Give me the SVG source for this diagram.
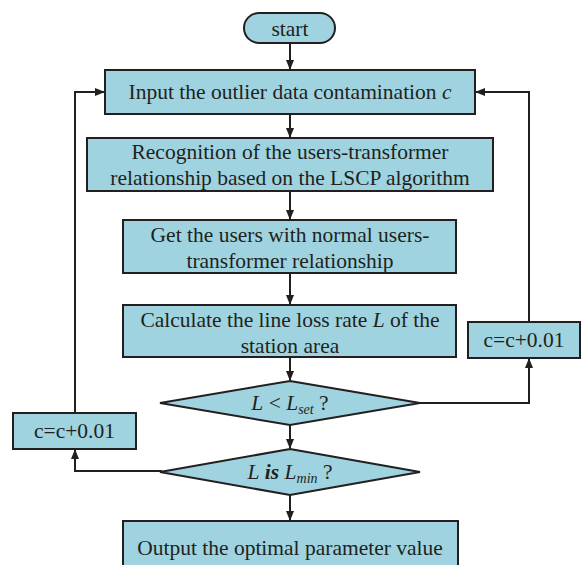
<svg xmlns="http://www.w3.org/2000/svg" width="581" height="565" viewBox="0 0 581 565">
<style>
.box{fill:#9ed3df;stroke:#231f20;stroke-width:2}
.t{font-family:"Liberation Serif","Times New Roman",serif;font-size:21.5px;fill:#231f20;text-anchor:middle}
.c{fill:none;stroke:#231f20;stroke-width:2}
</style>
<defs>
<marker id="ah" markerWidth="10" markerHeight="10" refX="9" refY="5" orient="auto" markerUnits="userSpaceOnUse">
<path d="M0,1 L10,5 L0,9 Z" fill="#231f20"/>
</marker>
</defs>
<rect width="581" height="565" fill="#fff"/>
<g id="connectors">
<path class="c" d="M290,43 V69" marker-end="url(#ah)"/>
<path class="c" d="M290,114 V137" marker-end="url(#ah)"/>
<path class="c" d="M290,191 V219" marker-end="url(#ah)"/>
<path class="c" d="M290,273 V304" marker-end="url(#ah)"/>
<path class="c" d="M290,357 V380" marker-end="url(#ah)"/>
<path class="c" d="M290,425 V448" marker-end="url(#ah)"/>
<path class="c" d="M290,495 V520" marker-end="url(#ah)"/>
<path class="c" d="M420,403 H529 V359" marker-end="url(#ah)"/>
<path class="c" d="M529,322 V92 H476" marker-end="url(#ah)"/>
<path class="c" d="M162,471 H75 V450" marker-end="url(#ah)"/>
<path class="c" d="M75,413 V92 H104" marker-end="url(#ah)"/>
</g>
<g id="start">
<rect class="box" x="244" y="13" width="91" height="30" rx="15"/>
<text class="t" x="290" y="36">start</text>
</g>
<g id="input">
<rect class="box" x="105" y="70" width="370" height="44"/>
<text class="t" x="290" y="99">Input the outlier data contamination <tspan font-style="italic">c</tspan></text>
</g>
<g id="recognition">
<rect class="box" x="87" y="138" width="406" height="53"/>
<text class="t" x="290" y="159">Recognition of the users-transformer</text>
<text class="t" x="290" y="185">relationship based on the LSCP algorithm</text>
</g>
<g id="getusers">
<rect class="box" x="123" y="220" width="333" height="53"/>
<text class="t" x="290" y="242">Get the users with normal users-</text>
<text class="t" x="290" y="268">transformer relationship</text>
</g>
<g id="calculate">
<rect class="box" x="123" y="305" width="333" height="52"/>
<text class="t" x="290" y="327">Calculate the line loss rate <tspan font-style="italic">L</tspan> of the</text>
<text class="t" x="290" y="353">station area</text>
</g>
<g id="diamond1">
<polygon class="box" points="290,381 420,403 290,425 160,403"/>
<text class="t" x="290" y="410"><tspan font-style="italic">L</tspan> &lt; <tspan font-style="italic">L</tspan><tspan font-style="italic" font-size="14" dy="4">set</tspan><tspan dy="-4"> ?</tspan></text>
</g>
<g id="diamond2">
<polygon class="box" points="290,449 420,472 290,495 160,472"/>
<text class="t" x="290" y="479"><tspan font-style="italic">L</tspan> <tspan font-style="italic" font-weight="bold">is</tspan> <tspan font-style="italic">L</tspan><tspan font-style="italic" font-size="14" dy="4">min</tspan><tspan dy="-4"> ?</tspan></text>
</g>
<g id="incright">
<rect class="box" x="468" y="322" width="112" height="36"/>
<text class="t" x="524" y="347">c=c+0.01</text>
</g>
<g id="incleft">
<rect class="box" x="13" y="413" width="123" height="36"/>
<text class="t" x="74.5" y="438">c=c+0.01</text>
</g>
<g id="output">
<rect class="box" x="123" y="521" width="335" height="50"/>
<text class="t" x="290" y="555">Output the optimal parameter value</text>
</g>
</svg>
